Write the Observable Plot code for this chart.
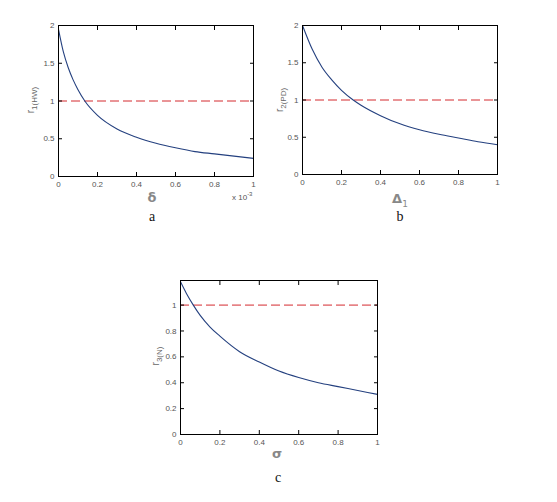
<!DOCTYPE html>
<html>
<head>
<meta charset="utf-8">
<script src="https://cdn.jsdelivr.net/npm/d3@7"></script>
<script src="https://cdn.jsdelivr.net/npm/@observablehq/plot@0.6"></script>
<style>
  body { margin: 0; background: #fff; }
  #wrap { position: relative; width: 557px; height: 502px; overflow: hidden; font-family: "Liberation Sans", Arial, sans-serif; }
  #wrap svg { position: absolute; }
  #wrap svg text { fill: #555; }
  .lab { position: absolute; white-space: nowrap; }
  .cap { font-family: "Liberation Serif", "Times New Roman", serif; font-size: 14px; color: #111; transform: translate(-50%, -50%); }
  .xl { font-family: "DejaVu Sans", sans-serif; font-size: 13px; font-weight: bold; color: #888; transform: translate(-50%, -50%); }
  .yl { font-family: "Liberation Sans", Arial, sans-serif; font-size: 10px; color: #666; transform: translate(-50%, -50%) rotate(-90deg); }
  .yl sub { font-size: 8px; }
</style>
</head>
<body>
<div id="wrap"></div>
<script>
// Panel a: r1(HW) vs delta (x 10^-3)
const aX = [0, 0.025, 0.05, 0.075, 0.1, 0.135, 0.2, 0.3, 0.4, 0.5, 0.6, 0.7, 0.8, 0.9, 1];
const aY = [1.95, 1.65, 1.44, 1.28, 1.15, 1.0, 0.81, 0.63, 0.52, 0.44, 0.38, 0.33, 0.30, 0.27, 0.24];
// Panel b: r2 vs Delta1
const bX = [0, 0.05, 0.1, 0.15, 0.2, 0.26, 0.3, 0.4, 0.5, 0.6, 0.7, 0.8, 0.9, 1];
const bY = [2.0, 1.68, 1.44, 1.27, 1.13, 1.0, 0.93, 0.79, 0.68, 0.60, 0.54, 0.49, 0.44, 0.40];
// Panel c: r3 vs sigma
const cX = [0, 0.03, 0.065, 0.1, 0.15, 0.2, 0.3, 0.4, 0.5, 0.6, 0.7, 0.8, 0.9, 1];
const cY = [1.18, 1.09, 1.0, 0.92, 0.83, 0.76, 0.64, 0.56, 0.49, 0.44, 0.40, 0.37, 0.34, 0.31];

const xTicks = [0, 0.2, 0.4, 0.6, 0.8, 1];
const yTicksAB = [0, 0.5, 1, 1.5, 2];
const yTicksC = [0, 0.2, 0.4, 0.6, 0.8, 1];
const refLine = [1];

const wrap = document.getElementById("wrap");

function panel({xs, ys, yDomain, yTicks, left, top, width, height, m}) {
  const data = xs.map((x, i) => ({x, y: ys[i]}));
  const fmt = d => d3.format("~g")(d);
  const svg = Plot.plot({
    width, height,
    marginLeft: m[0], marginRight: m[1], marginTop: m[2], marginBottom: m[3],
    style: {fontSize: "8px", fontFamily: "Liberation Sans, Arial, sans-serif", background: "transparent"},
    x: {domain: [0, 1]},
    y: {domain: yDomain},
    marks: [
      Plot.ruleY(refLine, {stroke: "#d42a2f", strokeWidth: 1, strokeDasharray: "9,4"}),
      Plot.line(data, {x: "x", y: "y", stroke: "#24407f", strokeWidth: 1.1, curve: "monotone-x"}),
      Plot.axisX({ticks: xTicks, tickSize: -4, tickPadding: 9, tickFormat: fmt, label: null, color: "#000"}),
      Plot.axisX({anchor: "top", ticks: xTicks, tickSize: -4, tickFormat: () => "", label: null, color: "#000"}),
      Plot.axisY({ticks: yTicks, tickSize: -4, tickPadding: 8, tickFormat: fmt, label: null, color: "#000"}),
      Plot.axisY({anchor: "right", ticks: yTicks, tickSize: -4, tickFormat: () => "", label: null, color: "#000"}),
      Plot.frame({stroke: "#000", strokeWidth: 1})
    ]
  });
  svg.style.left = left + "px";
  svg.style.top = top + "px";
  wrap.appendChild(svg);
}

panel({xs: aX, ys: aY, yDomain: [0, 2], yTicks: yTicksAB, left: 0, top: 0, width: 280, height: 200, m: [58, 27, 25, 24]});
panel({xs: bX, ys: bY, yDomain: [0, 2], yTicks: yTicksAB, left: 280, top: 0, width: 240, height: 200, m: [22, 23, 25, 26]});
panel({xs: cX, ys: cY, yDomain: [0, 1.19], yTicks: yTicksC, left: 140, top: 260, width: 260, height: 200, m: [40, 23, 20, 26]});

function lab(cls, x, y, html) {
  const d = document.createElement("div");
  d.className = "lab " + cls;
  d.style.left = x + "px";
  d.style.top = y + "px";
  d.innerHTML = html;
  wrap.appendChild(d);
}
lab("cap", 152, 217, "a");
lab("cap", 400, 217, "b");
lab("cap", 278, 478, "c");
lab("xl", 152, 197, "δ");
lab("xl", 400, 200, "Δ<sub style='font-size:9px;font-weight:normal'>1</sub>");
lab("xl", 277, 453, "σ");
lab("yl", 32, 100, "r<sub>1(HW)</sub>");
lab("yl", 281, 100, "r<sub>2(PD)</sub>");
lab("yl", 157, 356, "r<sub>3(N)</sub>");
const sc = document.createElement("div");
sc.className = "lab";
sc.style.cssText = "left:232px;top:191px;font-size:8px;color:#555;";
sc.innerHTML = "x 10<sup style='font-size:6px'>-3</sup>";
wrap.appendChild(sc);
</script>
</body>
</html>
